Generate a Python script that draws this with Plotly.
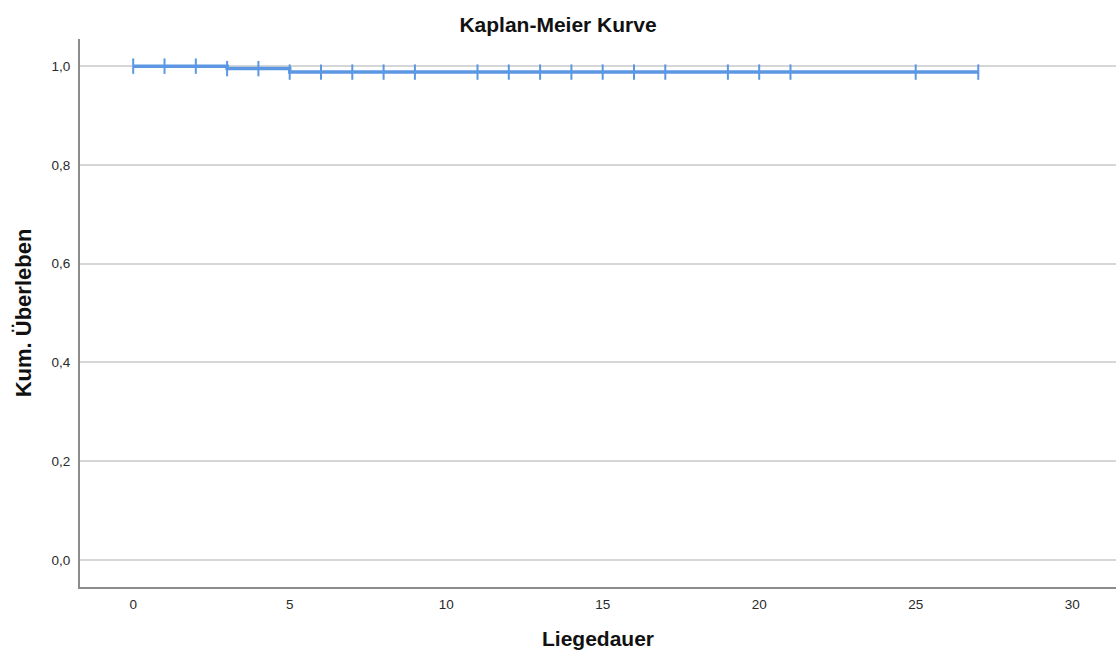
import plotly.graph_objects as go

# Kaplan-Meier step data
event_times = [0, 3, 5, 27]
survival = [1.0, 0.995, 0.988, 0.988]
censor_times = [0, 1, 2, 3, 4, 5, 6, 7, 8, 9, 11, 12, 13, 14, 15, 16, 17, 19, 20, 21, 25, 27]
x_ticks = [0, 5, 10, 15, 20, 25, 30]
y_ticks = [0.0, 0.2, 0.4, 0.6, 0.8, 1.0]

def surv_at(t):
    s = survival[0]
    for et, sv in zip(event_times, survival):
        if t >= et:
            s = sv
    return s

censor_surv = [surv_at(t) for t in censor_times]

color = "#5B97E3"
fig = go.Figure()
fig.add_trace(go.Scatter(x=event_times, y=survival, mode="lines",
                         line=dict(color=color, width=3.5, shape="hv"),
                         showlegend=False, hoverinfo="skip"))
fig.add_trace(go.Scatter(x=censor_times, y=censor_surv, mode="markers",
                         marker=dict(symbol="line-ns", size=11,
                                     line=dict(color=color, width=2)),
                         showlegend=False))

fig.update_layout(
    width=1116, height=655,
    margin=dict(l=80, r=0, t=39, b=68),
    paper_bgcolor="white", plot_bgcolor="white",
    separators=",.",
    font=dict(family="Liberation Sans, Arial, sans-serif", color="#2a2a2a", size=13.5),
    title=dict(text="<b>Kaplan-Meier Kurve</b>", x=0.5, xanchor="center",
               y=0.963, yanchor="middle", font=dict(size=21, color="#111")),
    xaxis=dict(range=[-1.7, 31.4], tickvals=x_ticks, showgrid=False, zeroline=False,
               showline=True, linecolor="#8c8c8c", linewidth=2, ticks="",
               ticklabelstandoff=4,
               title=dict(text="<b>Liegedauer</b>", font=dict(size=21, color="#111"),
                          standoff=20)),
    yaxis=dict(range=[-0.055, 1.055], tickvals=y_ticks, tickformat=".1f",
               showgrid=True, gridcolor="#d6d6d6", gridwidth=2, zeroline=False,
               showline=True, linecolor="#8c8c8c", linewidth=2, ticks="",
               ticklabelstandoff=5,
               title=dict(text="<b>Kum. Überleben</b>", font=dict(size=22, color="#111"),
                          standoff=14)),
)

fig.write_html("out.html")
